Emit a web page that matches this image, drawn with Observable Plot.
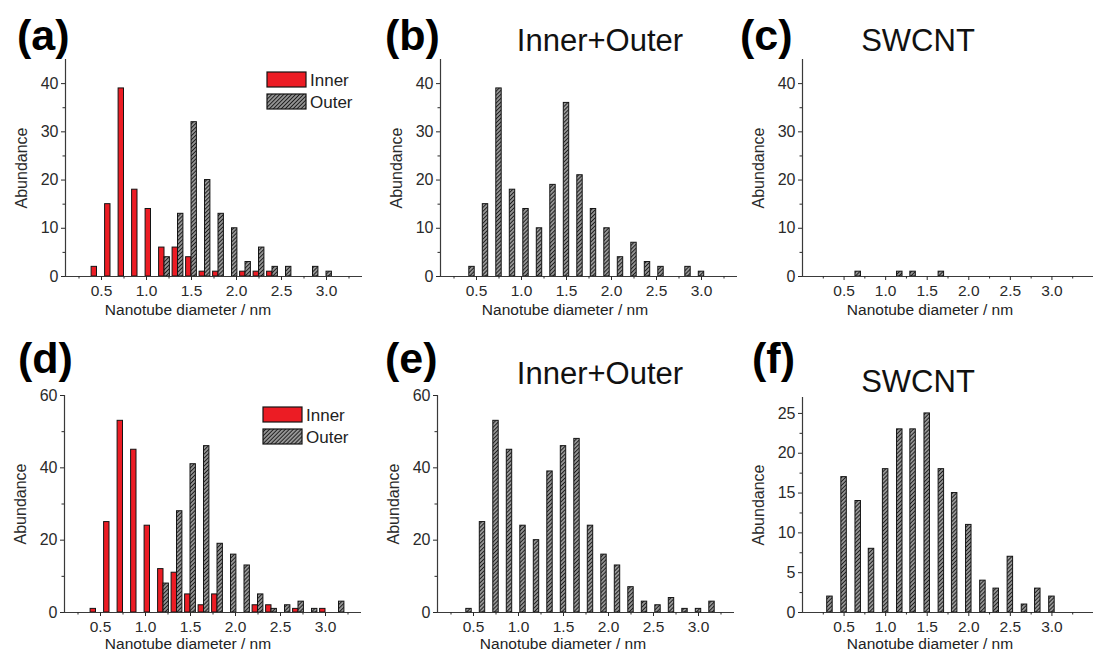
<!DOCTYPE html>
<html>
<head>
<meta charset="utf-8">
<script src="https://cdn.jsdelivr.net/npm/d3@7"></script>
<script src="https://cdn.jsdelivr.net/npm/@observablehq/plot@0.6"></script>
<style>
  body { margin: 0; background: #fff; }
  #root { position: relative; width: 1095px; height: 654px; overflow: hidden; font-family: "Liberation Sans", Arial, sans-serif; }
  #root svg { position: absolute; overflow: visible; }
</style>
</head>
<body>
<div id="root"></div>
<script>
// ---------- data ----------
// bin centres (nm) for panels a, b (0.15 nm bins)
const binsTop = [0.45, 0.6, 0.75, 0.9, 1.05, 1.2, 1.35, 1.5, 1.65, 1.8, 1.95, 2.1, 2.25, 2.4, 2.55, 2.7, 2.85, 3.0];
const aInner = [2, 15, 39, 18, 14, 6, 6, 4, 1, 1, 0, 1, 1, 1, 0, 0, 0, 0];
const aOuter = [0, 0, 0, 0, 0, 4, 13, 32, 20, 13, 10, 3, 6, 2, 2, 0, 2, 1];
const bTotal = [2, 15, 39, 18, 14, 10, 19, 36, 21, 14, 10, 4, 7, 3, 2, 0, 2, 1];
// panel c (SWCNT)
const binsC = [0.67, 1.17, 1.33, 1.67];
const cSwcnt = [1, 1, 1, 1];
// bin centres for panels d, e
const binsBot = [0.45, 0.6, 0.75, 0.9, 1.05, 1.2, 1.35, 1.5, 1.65, 1.8, 1.95, 2.1, 2.25, 2.4, 2.55, 2.7, 2.85, 3.0, 3.15];
const dInner = [1, 25, 53, 45, 24, 12, 11, 5, 2, 5, 0, 0, 2, 2, 0, 1, 0, 1, 0];
const dOuter = [0, 0, 0, 0, 0, 8, 28, 41, 46, 19, 16, 13, 5, 1, 2, 3, 1, 0, 3];
const eTotal = [1, 25, 53, 45, 24, 20, 39, 46, 48, 24, 16, 13, 7, 3, 2, 4, 1, 1, 3];
// panel f (SWCNT)
const binsF = [0.33, 0.5, 0.67, 0.83, 1.0, 1.17, 1.33, 1.5, 1.67, 1.83, 2.0, 2.17, 2.33, 2.5, 2.67, 2.83, 3.0];
const fSwcnt = [2, 17, 14, 8, 18, 23, 23, 25, 18, 15, 11, 4, 3, 7, 1, 3, 2];

const xTickVals = [0.5, 1.0, 1.5, 2.0, 2.5, 3.0];
const xMinorVals = [0.25, 0.75, 1.25, 1.75, 2.25, 2.75, 3.25];
const xLabel = "Nanotube diameter / nm";
const yLabel = "Abundance";
const seriesNames = ["Inner", "Outer"];
const panelLetters = ["(a)", "(b)", "(c)", "(d)", "(e)", "(f)"];
const panelTitles = ["", "Inner+Outer", "SWCNT", "", "Inner+Outer", "SWCNT"];

// ---------- style ----------
const FONT = '"Liberation Sans", Arial, sans-serif';
const RED = "#ec1c24";
const EDGE = "#141414";
const AXIS = "#3a3a3a";

const rows = (xs, vs) => xs.map((x, i) => ({x, v: vs[i]})).filter(d => d.v > 0);

function hatchDef(id) {
  return `<pattern id="${id}" patternUnits="userSpaceOnUse" width="2.8" height="2.8" patternTransform="rotate(45)">
    <rect width="2.8" height="2.8" fill="#d6d6d6"/>
    <line x1="1.4" y1="0" x2="1.4" y2="2.8" stroke="#1e1e1e" stroke-width="1.6"/>
  </pattern>`;
}

const root = document.getElementById("root");

function makePanel(cfg) {
  const mL = 70, mR = 10, mT = 10, mB = 40;
  const chart = Plot.plot({
    width: cfg.fx1 - cfg.fx0 + mL + mR,
    height: cfg.fy1 - cfg.fy0 + mT + mB,
    marginLeft: mL, marginRight: mR, marginTop: mT, marginBottom: mB,
    x: {domain: cfg.xDomain},
    y: {domain: cfg.yDomain},
    style: {fontFamily: FONT, fontSize: "15px", color: "#222", background: "transparent", overflow: "visible"},
    marks: [
      ...cfg.marks,
      Plot.ruleY([0], {stroke: AXIS, strokeWidth: 1.2}),
      Plot.ruleX([cfg.xDomain[0]], {stroke: AXIS, strokeWidth: 1.2}),
      Plot.axisX({ticks: xTickVals, tickFormat: d3.format(".1f"), tickSize: 4, tickPadding: 4, color: "#2a2a2a",
                  fontSize: 15.5, label: null}),
      Plot.axisX({ticks: xMinorVals, tickSize: 2.5, text: null, label: null, color: "#2a2a2a"}),
      Plot.axisY({ticks: cfg.yTicks, tickSize: 4, tickPadding: 3, color: "#2a2a2a", fontSize: 16,
                  label: yLabel, labelAnchor: "center", labelOffset: 50, labelArrow: "none"}),
      Plot.axisY({ticks: cfg.yMinor, tickSize: 2.5, text: null, label: null, color: "#2a2a2a"})
    ]
  });
  d3.select(chart).insert("defs", ":first-child").html(hatchDef(cfg.hatch));
  chart.style.left = (cfg.fx0 - mL) + "px";
  chart.style.top = (cfg.fy0 - mT) + "px";
  root.appendChild(chart);
}

const hwSingle = 0.03;   // half width of single bars (nm)
const wGroup = 0.06;     // width of each grouped bar (nm)
const hwSw = 0.033;

function groupedMarks(xs, inner, outer, hatch) {
  return [
    Plot.rect(rows(xs, inner), {x1: d => d.x - wGroup, x2: d => d.x, y1: () => 0, y2: "v", fill: RED, stroke: EDGE, strokeWidth: 1}),
    Plot.rect(rows(xs, outer), {x1: d => d.x, x2: d => d.x + wGroup, y1: () => 0, y2: "v", fill: `url(#${hatch})`, stroke: EDGE, strokeWidth: 1})
  ];
}
function singleMarks(xs, vs, hw, hatch) {
  return [
    Plot.rect(rows(xs, vs), {x1: d => d.x - hw, x2: d => d.x + hw, y1: () => 0, y2: "v", fill: `url(#${hatch})`, stroke: EDGE, strokeWidth: 1})
  ];
}

const topY = {yDomain: [0, 45], yTicks: [0, 10, 20, 30, 40], yMinor: [5, 15, 25, 35], fy0: 59, fy1: 276};

makePanel({...topY, hatch: "hA", fx0: 65, fx1: 362, xDomain: [0.1, 3.4], marks: groupedMarks(binsTop, aInner, aOuter, "hA")});
makePanel({...topY, hatch: "hB", fx0: 440, fx1: 737, xDomain: [0.1, 3.4], marks: singleMarks(binsTop, bTotal, hwSingle, "hB")});
makePanel({...topY, hatch: "hC", fx0: 802, fx1: 1093, xDomain: [0, 3.5], marks: singleMarks(binsC, cSwcnt, hwSw, "hC")});

const botY = {yDomain: [0, 60], yTicks: [0, 20, 40, 60], yMinor: [10, 30, 50], fy0: 395, fy1: 612};
makePanel({...botY, hatch: "hD", fx0: 64, fx1: 361, xDomain: [0.1, 3.4], marks: groupedMarks(binsBot, dInner, dOuter, "hD")});
makePanel({...botY, hatch: "hE", fx0: 437, fx1: 734, xDomain: [0.1, 3.4], marks: singleMarks(binsBot, eTotal, hwSingle, "hE")});
makePanel({yDomain: [0, 27], yTicks: [0, 5, 10, 15, 20, 25], yMinor: [2.5, 7.5, 12.5, 17.5, 22.5], fy0: 397, fy1: 612,
           hatch: "hF", fx0: 802, fx1: 1093, xDomain: [0, 3.5], marks: singleMarks(binsF, fSwcnt, hwSw, "hF")});

// ---------- overlay: panel letters, titles, axis titles, legends ----------
const ov = d3.select(root).append("svg").attr("width", 1095).attr("height", 654)
  .style("left", "0px").style("top", "0px").style("pointer-events", "none");
ov.append("defs").html(hatchDef("hL"));

const letterPos = [[17, 50], [385, 50], [740, 50], [18, 373], [385, 373], [752, 373]];
panelLetters.forEach((t, i) => {
  ov.append("text").attr("x", letterPos[i][0]).attr("y", letterPos[i][1]).text(t)
    .attr("font-family", FONT).attr("font-weight", "bold").attr("font-size", 43).attr("fill", "#000");
});
const titlePos = [null, [600, 51, 31], [918, 51, 31], null, [600, 384, 31], [918, 392, 31]];
panelTitles.forEach((t, i) => {
  if (!t) return;
  ov.append("text").attr("x", titlePos[i][0]).attr("y", titlePos[i][1]).text(t).attr("text-anchor", "middle")
    .attr("font-family", FONT).attr("font-size", titlePos[i][2]).attr("fill", "#111");
});
const xLabelPos = [[188, 315], [565, 315], [930, 315], [188, 649], [563, 649], [930, 649]];
xLabelPos.forEach(([x, y]) => {
  ov.append("text").attr("x", x).attr("y", y).text(xLabel).attr("text-anchor", "middle")
    .attr("font-family", FONT).attr("font-size", 15.5).attr("fill", "#222");
});

function legend(x, y, gap) {
  seriesNames.forEach((name, i) => {
    const yy = y + i * gap;
    ov.append("rect").attr("x", x).attr("y", yy).attr("width", 39).attr("height", 15)
      .attr("fill", i === 0 ? RED : "url(#hL)").attr("stroke", EDGE).attr("stroke-width", 1.2);
    ov.append("text").attr("x", x + 43).attr("y", yy + 14).text(name)
      .attr("font-family", FONT).attr("font-size", 17).attr("fill", "#222");
  });
}
legend(267, 72, 22);
legend(263, 407, 22);
</script>
</body>
</html>
